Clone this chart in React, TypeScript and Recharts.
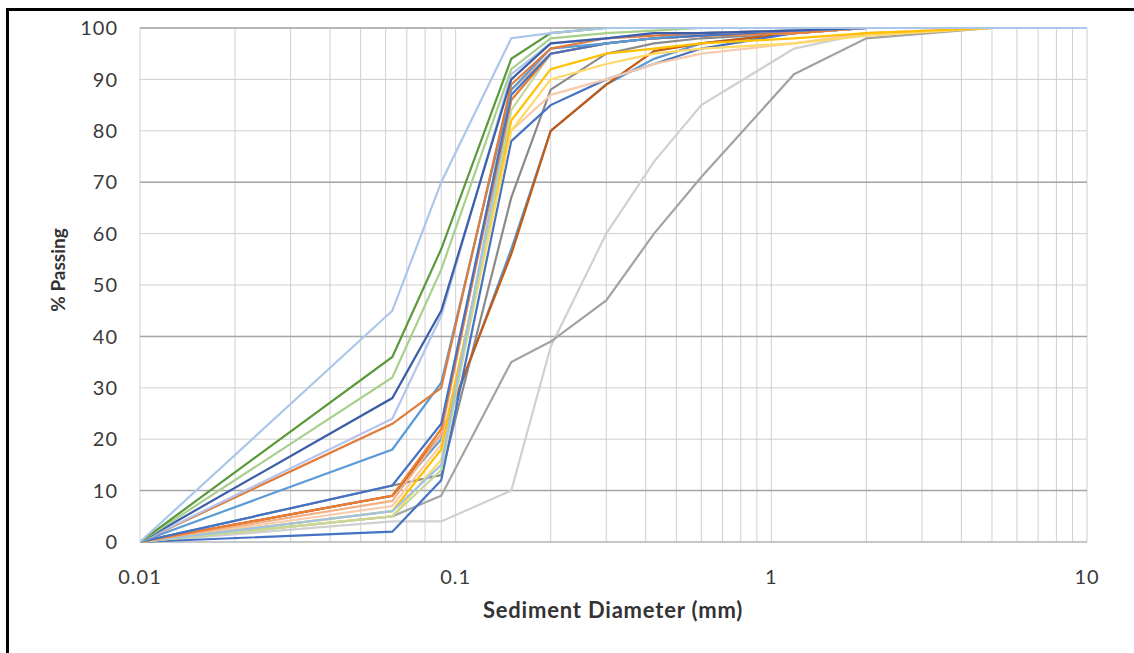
import React from 'react';
import { LineChart, Line, XAxis, YAxis, CartesianGrid, ReferenceLine } from 'recharts';

// sieve sizes (mm) where each sample was measured
const sieveSizes = [0.01, 0.063, 0.09, 0.15, 0.2, 0.3, 0.425, 0.6, 1.18, 2, 5, 10];

// % passing per sample, same order as sieveSizes
const sample01 = [0, 4, 4, 10, 38, 60, 74, 85, 96, 99, 100, 100];
const sample02 = [0, 5, 9, 35, 39, 47, 60, 71, 91, 98, 100, 100];
const sample03 = [0, 11, 13, 67, 88, 95, 97, 98, 99, 100, 100, 100];
const sample04 = [0, 9, 20, 57, 80, 89, 94, 97, 99, 100, 100, 100];
const sample05 = [0, 9, 21, 56, 80, 89, 95.5, 97, 99, 100, 100, 100];
const sample06 = [0, 2, 12, 78, 85, 90, 93, 96, 99, 100, 100, 100];
const sample07 = [0, 7, 19, 80, 87, 90, 93, 95, 97, 99, 100, 100];
const sample08 = [0, 5, 16, 80, 90, 93, 95, 96, 97, 98.5, 100, 100];
const sample09 = [0, 6, 18, 82, 92, 95, 96, 97, 98, 99, 100, 100];
const sample10 = [0, 5, 14, 84, 95, 97, 98, 99, 99.5, 100, 100, 100];
const sample11 = [0, 6, 15, 86, 95, 97, 98, 98.5, 99, 100, 100, 100];
const sample12 = [0, 8, 21, 88, 95, 97, 98, 98.5, 99, 100, 100, 100];
const sample13 = [0, 9, 22, 86, 95, 97, 98, 98.5, 99, 100, 100, 100];
const sample14 = [0, 11, 23, 87, 95, 97, 98, 98.5, 99.5, 100, 100, 100];
const sample15 = [0, 18, 31, 88, 96, 97, 98, 99, 99.5, 100, 100, 100];
const sample16 = [0, 23, 30, 89, 96, 98, 98.5, 99, 99.5, 100, 100, 100];
const sample17 = [0, 24, 44, 91, 97, 98, 99, 99, 99.5, 100, 100, 100];
const sample18 = [0, 28, 45, 90, 97, 98, 99, 99, 99.5, 100, 100, 100];
const sample19 = [0, 32, 53, 92, 98, 99, 99.5, 100, 100, 100, 100, 100];
const sample20 = [0, 36, 57, 94, 99, 100, 100, 100, 100, 100, 100, 100];
const sample21 = [0, 45, 70, 98, 99, 100, 100, 100, 100, 100, 100, 100];

const samples = [
  { key: 's01', values: sample01, color: '#d0d0d0' },
  { key: 's02', values: sample02, color: '#a3a3a3' },
  { key: 's03', values: sample03, color: '#8a8a8a' },
  { key: 's04', values: sample04, color: '#5b9bd5' },
  { key: 's05', values: sample05, color: '#c55a11' },
  { key: 's06', values: sample06, color: '#4472c4' },
  { key: 's07', values: sample07, color: '#f8cbad' },
  { key: 's08', values: sample08, color: '#ffd966' },
  { key: 's09', values: sample09, color: '#ffc000' },
  { key: 's10', values: sample10, color: '#c5d79a' },
  { key: 's11', values: sample11, color: '#9dc3e6' },
  { key: 's12', values: sample12, color: '#f4b183' },
  { key: 's13', values: sample13, color: '#ed7d31' },
  { key: 's14', values: sample14, color: '#4472c4' },
  { key: 's15', values: sample15, color: '#5b9bd5' },
  { key: 's16', values: sample16, color: '#e07b39' },
  { key: 's17', values: sample17, color: '#b4c4ec' },
  { key: 's18', values: sample18, color: '#3c5ea8' },
  { key: 's19', values: sample19, color: '#a8d08d' },
  { key: 's20', values: sample20, color: '#5b9a3c' },
  { key: 's21', values: sample21, color: '#aac6ea' },
];

const yTicks = [0, 10, 20, 30, 40, 50, 60, 70, 80, 90, 100];
const darkRows = [10, 40, 70, 100];
const decadeLabels = [0.01, 0.1, 1, 10];

// log grid: 1..9 in each decade
const xGrid: number[] = [];
[0.01, 0.1, 1].forEach((d) => {
  for (let m = 1; m < 10; m++) xGrid.push(+(d * m).toFixed(3));
});
xGrid.push(10);

const data = sieveSizes.map((d, i) => {
  const row: Record<string, number> = { d };
  samples.forEach((s) => (row[s.key] = s.values[i]));
  return row;
});

const font = 'Lato, "Open Sans", sans-serif';
const tickStyle = { fill: '#3a3a3a', fontSize: 20, fontFamily: font, letterSpacing: 1 };

export default function App() {
  return (
    <div style={{ position: 'fixed', left: 0, top: 0, width: 1134, height: 653, background: '#fff', fontFamily: font }}>
      <div style={{ position: 'absolute', left: 6, top: 8, width: 1128, height: 3, background: '#000' }} />
      <div style={{ position: 'absolute', left: 6, top: 8, width: 3, height: 645, background: '#000' }} />
      <LineChart width={1134} height={653} data={data} margin={{ top: 28, right: 47, bottom: 81, left: 80 }}>
        <CartesianGrid stroke="#cfcfcf" horizontalValues={yTicks} verticalValues={xGrid} />
        {darkRows.map((v) => (
          <ReferenceLine key={v} y={v} stroke="#a6a6a6" strokeWidth={1.5} />
        ))}
        <ReferenceLine y={0} stroke="#bdbdbd" strokeWidth={1.5} />
        <XAxis
          dataKey="d"
          type="number"
          scale="log"
          domain={[0.01, 10]}
          ticks={decadeLabels}
          interval={0}
          allowDataOverflow
          axisLine={false}
          tickLine={false}
          tickSize={0}
          tickMargin={28}
          height={30}
          tick={tickStyle}
        />
        <YAxis
          type="number"
          domain={[0, 100]}
          ticks={yTicks}
          interval={0}
          axisLine={false}
          tickLine={false}
          tickSize={0}
          tickMargin={22}
          width={60}
          tick={tickStyle}
        />
        {samples.map((s) => (
          <Line
            key={s.key}
            dataKey={s.key}
            type="linear"
            stroke={s.color}
            strokeWidth={2.2}
            dot={false}
            isAnimationActive={false}
          />
        ))}
      </LineChart>
      <div
        style={{
          position: 'absolute',
          left: 613,
          top: 609,
          transform: 'translate(-50%, -50%)',
          fontSize: 22,
          fontWeight: 700,
          letterSpacing: 0.8,
          color: '#333',
          whiteSpace: 'nowrap',
        }}
      >
        Sediment Diameter (mm)
      </div>
      <div
        style={{
          position: 'absolute',
          left: 57,
          top: 270,
          transform: 'translate(-50%, -50%) rotate(-90deg)',
          fontSize: 19,
          fontWeight: 700,
          color: '#333',
          whiteSpace: 'nowrap',
        }}
      >
        % Passing
      </div>
    </div>
  );
}
